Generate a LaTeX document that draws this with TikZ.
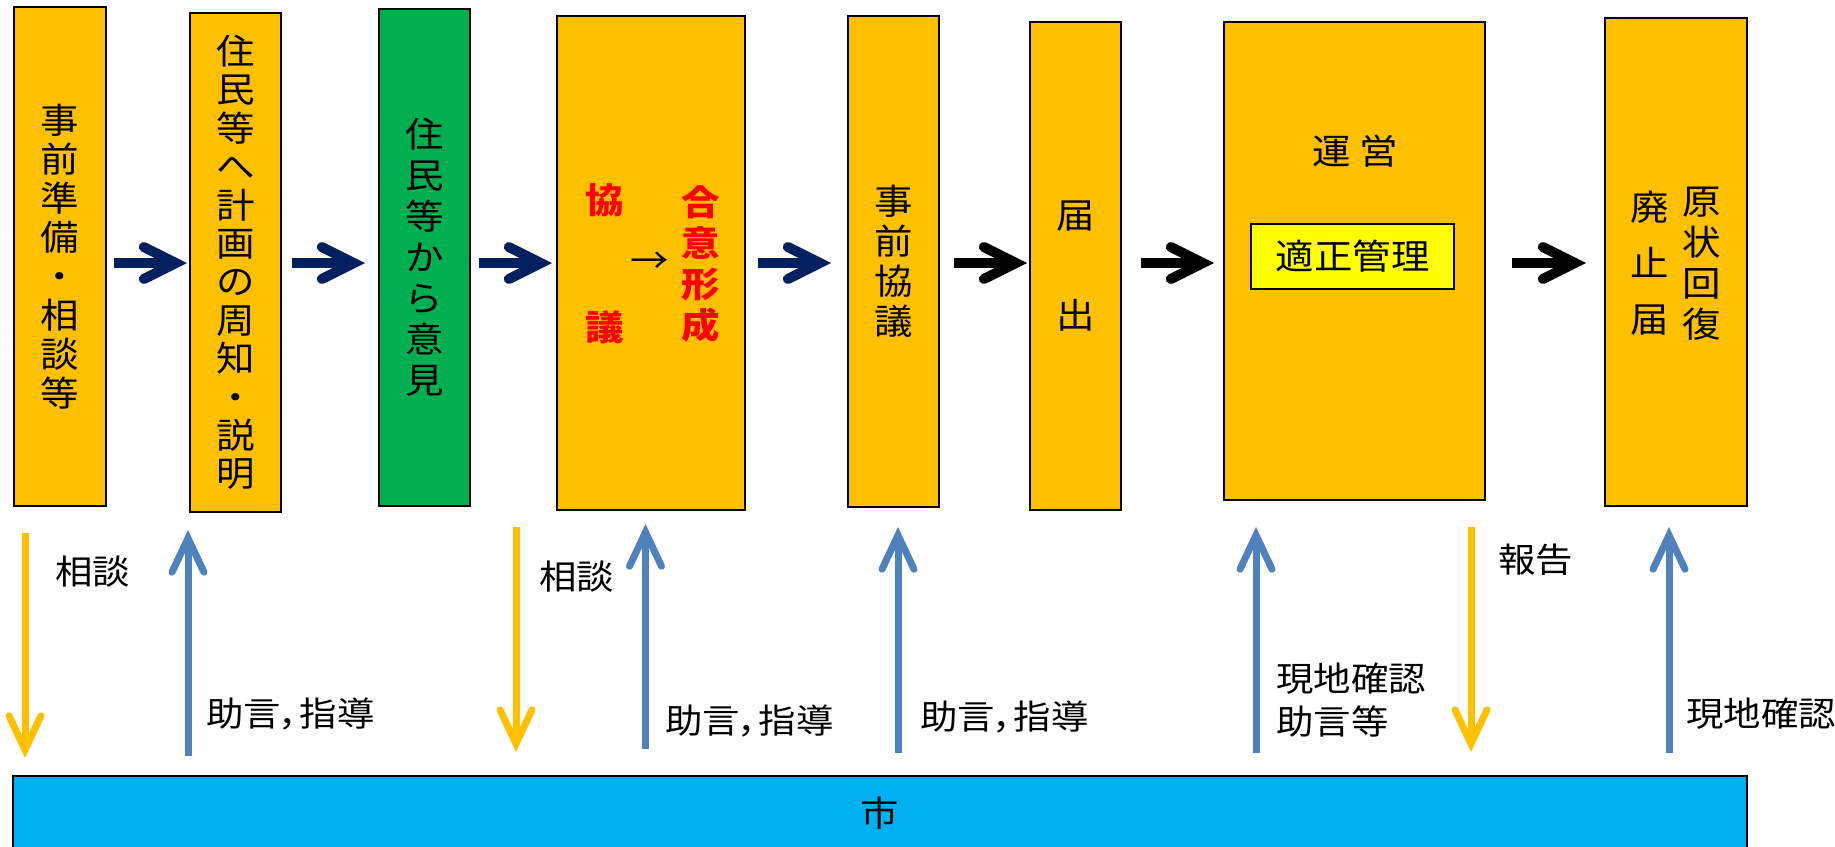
\documentclass[tikz,border=0pt]{standalone}
\usepackage{fontspec}
\usetikzlibrary{arrows.meta}
\newfontfamily\jp[FakeStretch=1.1,RawFeature=+palt]{Noto Sans CJK JP}
\definecolor{boxor}{HTML}{FFC000}
\definecolor{boxgr}{HTML}{00B050}
\definecolor{navy}{HTML}{002060}
\definecolor{arblue}{HTML}{4F81BD}
\definecolor{barcyan}{HTML}{00B0F0}
\definecolor{innery}{HTML}{FFFF00}
\definecolor{redtxt}{HTML}{FF0000}
\begin{document}
\begin{tikzpicture}[x=1pt,y=-1pt,
  box/.style={draw=black, line width=2pt, fill=boxor, inner sep=0pt, align=center},
  jpf/.style={font=\jp\fontsize{35}{#1}\selectfont},
  jpbf/.style={font=\jp\bfseries\fontsize{35}{#1}\selectfont},
  lab/.style={inner sep=0pt, anchor=west, font=\jp\fontsize{34}{43.5}\selectfont, align=left},
  navyarr/.style={draw=navy, line width=10pt, -{Straight Barb[length=32pt,width=32pt,line width=10pt,line cap=round,line join=miter]}},
  blkarr/.style={draw=black, line width=10pt, -{Straight Barb[length=32pt,width=32pt,line width=10pt,line cap=round,line join=miter]}},
  orarr/.style={draw=boxor, line width=7pt, -{Straight Barb[length=34pt,width=32pt,line width=7pt,line cap=round,line join=miter]}},
  bluarr/.style={draw=arblue, line width=7pt, -{Straight Barb[length=34pt,width=32pt,line width=7pt,line cap=round,line join=miter]}}
]
\useasboundingbox (0,0) rectangle (1835,846);
\fill[white] (0,0) rectangle (1835,846);

% boxes
\node[box, jpf=39, minimum width=92pt, minimum height=499pt] (b1) at (60,256.5) {事\\前\\準\\備\\・\\相\\談\\等};
\node[box, jpf=38.4, minimum width=91pt, minimum height=499pt] (b2) at (235.5,262.5) {住\\民\\等\\へ\\計\\画\\の\\周\\知\\・\\説\\明};
\node[box, fill=boxgr, jpf=41, minimum width=91pt, minimum height=497pt] (b3) at (424.5,257.5) {住\\民\\等\\か\\ら\\意\\見};
\node[box, minimum width=188pt, minimum height=494pt] (b4) at (651,263) {};
\node[box, jpf=40, minimum width=91pt, minimum height=491pt] (b5) at (893.5,261.5) {事\\前\\協\\議};
\node[box, jpf=100, minimum width=91pt, minimum height=488pt] (b6) at (1075.5,266) {届\\出};
\node[box, minimum width=261pt, minimum height=478pt] (b7) at (1354.5,261) {};
\node[box, minimum width=142pt, minimum height=488pt] (b8) at (1676,262) {};

% texts inside box4
\node[inner sep=0pt, align=center, jpbf=127, text=redtxt] (t4a) at (605,263.5) {協\\議};
\node[inner sep=0pt, jpf=40] (t4b) at (650,263) {→};
\node[inner sep=0pt, align=center, jpbf=41, text=redtxt] (t4c) at (701,263.5) {合\\意\\形\\成};

% box7 content
\node[inner sep=0pt, jpf=40] (t7) at (1355,151) {運 営};
\node[draw=black, line width=2pt, fill=innery, inner sep=0pt, minimum width=203pt, minimum height=65pt, jpf=40] (t7b) at (1352.5,256.5) {適正管理};

% box8 content
\node[inner sep=0pt, align=center, jpf=56] (t8a) at (1650,263) {廃\\止\\届};
\node[inner sep=0pt, align=center, jpf=41] (t8b) at (1702,263.5) {原\\状\\回\\復};

% bar
\node[draw=black, line width=2pt, fill=barcyan, inner sep=0pt, minimum width=1734pt, minimum height=74pt, jpf=40] (bar) at (880,813) {};
\node[inner sep=0pt, jpf=40] (city) at (880,813) {市};

% horizontal arrows
\coordinate (ay) at (0,263);
\draw[navyarr, shorten <=7pt, shorten >=2pt] (b1.east |- ay) -- (b2.west |- ay);
\draw[navyarr, shorten <=10pt, shorten >=13pt] (b2.east |- ay) -- (b3.west |- ay);
\draw[navyarr, shorten <=8pt, shorten >=4pt] (b3.east |- ay) -- (b4.west |- ay);
\draw[navyarr, shorten <=12pt, shorten >=16pt] (b4.east |- ay) -- (b5.west |- ay);
\draw[blkarr, shorten <=14pt, shorten >=2pt] (b5.east |- ay) -- (b6.west |- ay);
\draw[blkarr, shorten <=19pt, shorten >=9pt] (b6.east |- ay) -- (b7.west |- ay);
\draw[blkarr, shorten <=26pt, shorten >=18pt] (b7.east |- ay) -- (b8.west |- ay);

% vertical arrows
\coordinate (v1) at (25,0);
\coordinate (v2) at (188,0);
\coordinate (v3) at (516,0);
\coordinate (v4) at (645.5,0);
\coordinate (v5) at (898,0);
\coordinate (v6) at (1256,0);
\coordinate (v7) at (1471,0);
\coordinate (v8) at (1669,0);
\draw[orarr, shorten <=26pt, shorten >=17pt] (b1.south -| v1) -- (bar.north -| v1);
\draw[bluarr, shorten <=19pt, shorten >=17pt] (bar.north -| v2) -- (b2.south -| v2);
\draw[orarr, shorten <=16pt, shorten >=23pt] (b4.south -| v3) -- (bar.north -| v3);
\draw[bluarr, shorten <=26pt, shorten >=13pt] (bar.north -| v4) -- (b4.south -| v4);
\draw[bluarr, shorten <=22pt, shorten >=19pt] (bar.north -| v5) -- (b5.south -| v5);
\draw[bluarr, shorten <=22pt, shorten >=26pt] (bar.north -| v6) -- (b7.south -| v6);
\draw[orarr, shorten <=26pt, shorten >=23pt] (b7.south -| v7) -- (bar.north -| v7);
\draw[bluarr, shorten <=22pt, shorten >=20pt] (bar.north -| v8) -- (b8.south -| v8);

% labels
\node[lab] (l1) at (55,572) {相談};
\node[lab] (l2) at (206,714) {助言，指導};
\node[lab] (l3) at (539,577) {相談};
\node[lab] (l4) at (665,721) {助言，指導};
\node[lab] (l5) at (920,717) {助言，指導};
\node[lab] (l6) at (1276,700) {現地確認\\助言等};
\node[lab] (l7) at (1498,560) {報告};
\node[lab] (l8) at (1686,714) {現地確認};
\end{tikzpicture}
\end{document}
